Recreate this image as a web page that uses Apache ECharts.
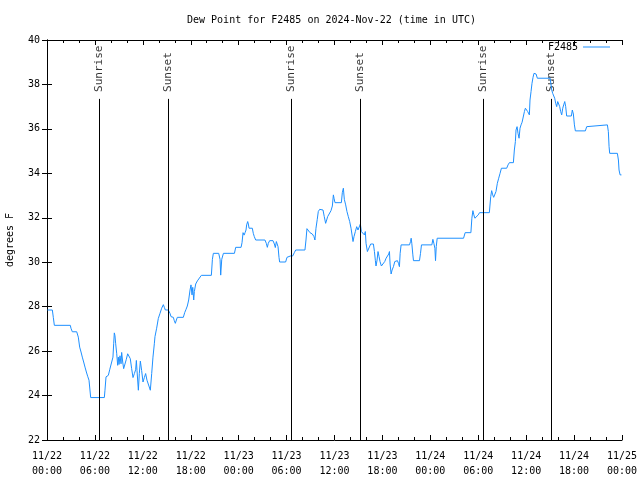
<!DOCTYPE html>
<html>
<head>
<meta charset="utf-8">
<script src="https://cdn.jsdelivr.net/npm/echarts@6/dist/echarts.min.js"></script>
<style>html,body{margin:0;padding:0;background:#fff}#c{width:640px;height:480px}</style>
</head>
<body>
<div id="c"></div>
<script>
// Hours since 2024-11-22 00:00 UTC
var hours = [
0.05,0.67,0.79,0.92,2.92,3.0,3.17,3.72,3.8,3.92,4.09,4.26,4.42,4.59,4.76,4.93,5.09,5.26,5.38,5.47,
7.18,7.26,7.39,7.68,7.85,8.10,8.26,8.35,8.43,8.51,8.60,8.73,8.85,8.93,9.02,9.14,9.27,9.35,9.48,9.60,
9.77,9.93,10.10,10.27,10.43,10.60,10.77,10.94,11.10,11.19,11.27,11.44,11.56,11.69,11.85,12.02,12.19,12.35,12.52,12.69,
12.94,13.11,13.27,13.44,
13.52,13.73,13.94,14.15,14.36,14.57,14.69,14.82,15.19,15.40,15.53,15.82,15.94,16.07,16.20,16.32,17.07,17.24,17.41,17.57,
17.74,17.91,18.03,18.16,18.25,18.37,18.45,18.62,18.83,19.08,19.33,20.58,20.71,20.83,21.50,21.67,21.75,21.88,22.09,23.47,
23.63,24.30,24.42,24.55,24.68,24.80,24.92,25.00,25.13,
25.21,25.30,25.71,25.83,25.96,26.13,27.29,27.46,27.59,27.71,27.88,28.30,28.47,28.59,28.72,28.85,28.93,29.05,29.13,29.88,
30.05,30.30,30.47,30.76,30.97,31.14,32.30,32.43,32.55,32.76,32.93,33.22,33.43,33.55,33.68,33.84,33.97,34.14,34.39,34.56,
34.72,34.89,35.02,35.14,35.39,35.56,35.73,35.86,35.94,36.06,36.86,36.98,37.11,37.23,37.40,37.56,37.73,37.90,38.07,
38.32,38.44,38.61,38.78,38.94,39.11,39.24,39.36,39.49,39.61,39.74,39.86,39.95,40.12,40.37,40.53,40.87,41.00,41.12,41.20,
41.33,41.45,41.58,41.70,41.87,42.12,42.29,42.46,42.62,42.79,42.88,42.96,43.09,43.21,43.38,43.55,43.72,43.88,44.01,44.13,
44.22,44.34,45.39,45.52,45.60,45.68,45.81,45.89,46.64,46.77,46.89,48.19,48.32,48.44,48.57,48.65,48.74,48.86,52.16,52.36,
53.08,53.20,53.33,53.45,53.58,53.83,54.00,54.16,
55.39,55.56,55.68,55.81,55.93,56.10,56.22,56.39,56.56,56.73,56.90,57.56,57.73,57.90,58.40,58.52,58.65,58.73,58.86,58.98,
59.11,59.23,59.36,59.49,59.66,59.78,59.90,60.07,60.19,60.32,60.40,60.48,60.61,60.73,60.86,60.98,61.11,61.24,61.40,
63.00,63.11,63.20,63.32,63.45,63.57,63.70,63.82,63.95,64.07,64.20,64.32,64.45,64.58,64.70,64.83,64.95,65.07,65.66,65.78,
65.91,66.04,66.16,67.41,67.58,67.70,70.17,70.29,70.38,70.46,71.42,71.55,71.63,71.76,71.93
];
var dewPoint = [
27.85,27.85,27.52,27.16,27.16,27.03,26.87,26.87,26.78,26.63,26.18,25.96,25.73,25.51,25.28,25.06,24.87,24.69,24.61,23.91,
23.91,24.24,24.84,24.91,25.16,25.18,25.73,26.33,26.82,26.70,26.33,25.88,25.36,25.73,25.40,25.79,25.43,25.94,25.51,25.21,
25.16,25.63,25.88,25.88,25.66,25.21,24.81,24.99,25.16,25.58,25.13,24.24,24.99,25.55,25.13,24.61,24.81,24.99,24.69,24.66,
24.24,24.99,25.73,26.33,
26.65,27.03,27.47,27.70,27.93,28.09,27.97,27.85,27.85,27.70,27.55,27.52,27.37,27.25,27.40,27.52,27.52,27.73,27.88,28.03,
28.30,28.75,28.98,28.53,28.87,28.30,28.68,29.02,29.16,29.20,29.41,29.41,30.13,30.40,30.40,30.13,29.42,30.13,30.40,30.40,
30.67,30.67,30.88,31.33,31.22,31.33,31.45,31.68,31.83,
31.72,31.53,31.53,31.30,31.15,31.00,31.00,30.85,30.67,30.85,30.97,30.97,30.82,30.66,30.93,30.97,30.70,30.22,30.01,30.01,
30.22,30.22,30.28,30.28,30.43,30.55,30.55,31.00,31.51,31.51,31.33,31.27,31.15,31.00,31.53,31.93,32.28,32.38,32.42,32.35,
32.05,31.75,31.90,32.05,32.08,32.32,32.53,33.03,32.88,32.68,32.68,33.13,33.33,32.83,32.58,32.28,32.05,31.83,31.53,
30.93,31.15,31.38,31.60,31.45,31.53,31.72,31.38,31.30,31.45,31.23,31.38,30.85,30.48,30.48,30.82,30.82,30.48,30.07,29.83,
30.10,30.48,30.25,30.03,29.83,29.83,30.03,30.18,30.22,30.37,30.48,29.92,29.47,29.65,29.80,30.03,30.10,30.07,29.95,29.80,
30.40,30.78,30.78,30.93,31.08,30.85,30.33,30.07,30.07,30.40,30.78,30.78,31.03,30.85,30.63,30.07,30.70,31.08,31.08,31.33,
31.33,31.98,32.32,32.13,31.98,31.98,32.13,32.23,
32.23,32.95,33.22,33.03,32.92,32.92,33.18,33.55,33.78,34.00,34.23,34.23,34.38,34.48,34.48,35.05,35.43,35.95,36.10,35.80,
35.58,36.03,36.18,36.30,36.33,36.78,36.93,36.93,36.78,36.85,36.63,37.30,37.68,38.05,38.32,38.50,38.58,38.47,38.28,
38.28,38.20,37.75,37.60,37.68,37.38,37.15,37.00,37.23,37.30,37.00,36.78,36.63,36.93,37.08,37.23,37.00,36.58,36.58,36.85,
36.67,36.18,35.91,35.91,36.10,36.18,36.18,35.88,35.20,34.90,34.90,34.60,34.15,33.93,33.93
];
var sunTimes = [6.55, 15.19, 30.59, 39.23, 54.63, 63.15];
var sunLabels = ['Sunrise', 'Sunset', 'Sunrise', 'Sunset', 'Sunrise', 'Sunset'];
var sunLineTop = 37.35;
var yTicks = [22, 40, 2];   // min, max, step
var xTicks = [0, 72, 6];    // hours
var baseMonth = 11, baseDay = 22;

var FONT = 'DejaVu Sans Mono';
var points = hours.map(function (h, i) { return [h, dewPoint[i]]; });

function xLabel(v) {
  var d = baseDay + Math.floor(v / 24);
  var hh = v % 24;
  return baseMonth + '/' + d + '\n' + (hh < 10 ? '0' : '') + hh + ':00';
}

var axisCommon = {
  axisLine: { show: true, lineStyle: { color: '#000', width: 1 } },
  splitLine: { show: false },
  axisTick: { show: true, inside: true, length: 5, lineStyle: { color: '#000' } }
};

var chart = echarts.init(document.getElementById('c'), null, { renderer: 'canvas' });
chart.setOption({
  animation: false,
  backgroundColor: '#fff',
  title: {
    text: 'Dew Point for F2485 on 2024-Nov-22 (time in UTC)',
    left: 187, top: 15, padding: 0,
    textStyle: { fontFamily: FONT, fontSize: 10, fontWeight: 'normal', color: '#000' }
  },
  legend: {
    data: [{ name: 'F2485', icon: 'rect' }], right: 30, top: 42, align: 'right',
    itemWidth: 27, itemHeight: 1, padding: 0,
    textStyle: { fontFamily: FONT, fontSize: 10, color: '#000' }
  },
  grid: { left: 47, right: 18, top: 40, bottom: 40, containLabel: false, outerBoundsMode: 'none' },
  xAxis: [
    Object.assign({}, axisCommon, {
      type: 'value', min: xTicks[0], max: xTicks[1], interval: xTicks[2], position: 'bottom',
      minorTick: { show: true, splitNumber: 3, length: 3, lineStyle: { color: '#000' } },
      axisLabel: { formatter: xLabel, fontFamily: FONT, fontSize: 10, color: '#000', lineHeight: 15, margin: 9 }
    }),
    Object.assign({}, axisCommon, {
      type: 'value', min: xTicks[0], max: xTicks[1], interval: xTicks[2], position: 'top',
      minorTick: { show: true, splitNumber: 3, length: 3, lineStyle: { color: '#000' } },
      axisLabel: { show: false }
    })
  ],
  yAxis: [
    Object.assign({}, axisCommon, {
      type: 'value', min: yTicks[0], max: yTicks[1], interval: yTicks[2], position: 'left',
      name: 'degrees F', nameLocation: 'middle', nameGap: 32, nameRotate: 90,
      nameTextStyle: { fontFamily: FONT, fontSize: 10, color: '#000' },
      axisLabel: { fontFamily: FONT, fontSize: 10, color: '#000', margin: 7 }
    }),
    Object.assign({}, axisCommon, {
      type: 'value', min: yTicks[0], max: yTicks[1], interval: yTicks[2], position: 'right',
      axisLabel: { show: false }
    })
  ],
  series: [
    {
      name: 'sun', type: 'line', data: [], symbol: 'none', silent: true,
      markLine: {
        silent: true, symbol: 'none', animation: false,
        lineStyle: { color: '#000', width: 1, type: 'solid' },
        label: { show: false },
        data: sunTimes.map(function (t) { return [{ coord: [t, yTicks[0]] }, { coord: [t, sunLineTop] }]; })
      }
    },
    {
      name: 'sunLabels', type: 'scatter', symbolSize: 0, silent: true,
      data: sunTimes.map(function (t, i) { return { value: [t, sunLineTop], name: sunLabels[i] }; }),
      label: {
        show: true, formatter: function (p) { return p.name; },
        rotate: 90, position: [0, 0], offset: [7, 0], align: 'left', verticalAlign: 'middle',
        fontFamily: FONT, fontSize: 11, color: '#000'
      }
    },
    {
      name: 'F2485', type: 'line', data: points, symbol: 'none', showSymbol: false,
      lineStyle: { color: '#1E90FF', width: 1 }, itemStyle: { color: '#1E90FF' }
    }
  ]
});
</script>
</body>
</html>
